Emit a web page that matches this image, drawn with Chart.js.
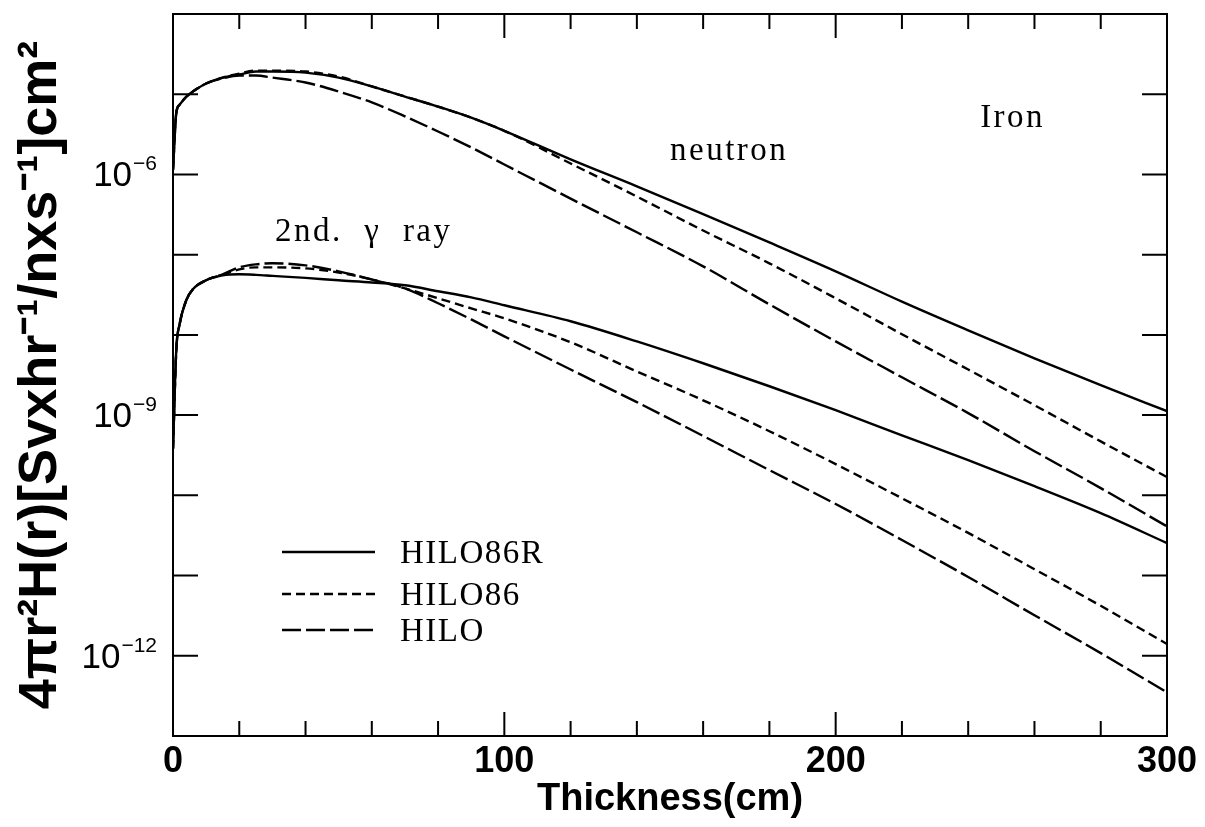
<!DOCTYPE html>
<html>
<head>
<meta charset="utf-8">
<script src="https://cdn.jsdelivr.net/npm/chart.js@4.4.1/dist/chart.umd.min.js"></script>
<style>
  html, body { margin: 0; padding: 0; background: #fff; }
  #wrap { width: 1205px; height: 827px; position: relative; }
</style>
</head>
<body>
<div id="wrap"><canvas id="doseChart"></canvas></div>
<script>
// thickness of iron (cm)
const thickness = [0, 1, 2, 4, 6, 10, 15, 20, 25, 30, 40, 50, 60, 70, 80, 90, 100, 120, 140, 160, 180, 200, 220, 240, 260, 280, 300];

// neutron dose
const neutronHILO86R = [1.15e-6, 5.9e-6, 7.4e-6, 9.3e-6, 1.08e-5, 1.36e-5, 1.61e-5, 1.76e-5, 1.92e-5, 1.92e-5, 1.86e-5, 1.61e-5, 1.25e-5, 9.35e-6, 7.0e-6, 5.1e-6, 3.5e-6, 1.54e-6, 7.1e-7, 3.2e-7, 1.42e-7, 6.2e-8, 2.6e-8, 1.14e-8, 5.1e-9, 2.36e-9, 1.12e-9];
const neutronHILO86 = [1.15e-6, 5.9e-6, 7.4e-6, 9.3e-6, 1.08e-5, 1.36e-5, 1.61e-5, 1.81e-5, 1.97e-5, 1.97e-5, 1.92e-5, 1.66e-5, 1.25e-5, 9.35e-6, 7.0e-6, 5.1e-6, 3.5e-6, 1.37e-6, 5.3e-7, 2.0e-7, 7.8e-8, 2.86e-8, 1.02e-8, 3.7e-9, 1.33e-9, 4.7e-10, 1.69e-10];
const neutronHILO = [1.15e-6, 5.9e-6, 7.4e-6, 9.3e-6, 1.08e-5, 1.36e-5, 1.58e-5, 1.71e-5, 1.71e-5, 1.61e-5, 1.40e-5, 1.08e-5, 7.9e-6, 5.3e-6, 3.43e-6, 2.17e-6, 1.33e-6, 5.0e-7, 1.9e-7, 7.15e-8, 2.4e-8, 8.3e-9, 2.96e-9, 1.06e-9, 3.55e-10, 1.23e-10, 4.1e-11];

// secondary gamma ray dose
const gammaHILO86R = [3.8e-10, 6.6e-9, 1.36e-8, 2.7e-8, 3.7e-8, 4.8e-8, 5.52e-8, 5.69e-8, 5.6e-8, 5.44e-8, 5.14e-8, 4.79e-8, 4.5e-8, 4.15e-8, 3.5e-8, 2.94e-8, 2.34e-8, 1.48e-8, 8.3e-9, 4.43e-9, 2.29e-9, 1.15e-9, 5.6e-10, 2.74e-10, 1.3e-10, 6.0e-11, 2.54e-11];
const gammaHILO86 = [3.8e-10, 6.6e-9, 1.36e-8, 2.7e-8, 3.7e-8, 4.8e-8, 5.6e-8, 6.56e-8, 6.95e-8, 6.95e-8, 6.75e-8, 6.0e-8, 4.9e-8, 3.8e-8, 2.86e-8, 2.14e-8, 1.61e-8, 8.1e-9, 3.5e-9, 1.53e-9, 6.3e-10, 2.45e-10, 9.2e-11, 3.4e-11, 1.2e-11, 4.2e-12, 1.4e-12];
const gammaHILO = [3.8e-10, 6.6e-9, 1.36e-8, 2.7e-8, 3.7e-8, 4.8e-8, 5.7e-8, 6.95e-8, 7.57e-8, 7.8e-8, 7.36e-8, 6.2e-8, 4.9e-8, 3.8e-8, 2.48e-8, 1.56e-8, 9.6e-9, 3.7e-9, 1.45e-9, 5.5e-10, 2.06e-10, 7.8e-11, 2.77e-11, 9.6e-12, 3.2e-12, 1.08e-12, 3.5e-13];

// axes
const xLabelValues = [0, 100, 200, 300];
const xMinorValues = [20, 40, 60, 80, 120, 140, 160, 180, 220, 240, 260, 280];
const yDecades = [-13, -12, -11, -10, -9, -8, -7, -6, -5, -4];
const yLabelDecades = [-12, -9, -6];
const yLabelExp = ['\u221212', '\u22129', '\u22126'];

const codeNames = ['HILO86R', 'HILO86', 'HILO'];
const codeDash = [[], [9, 5], [19, 5]];

const sans = "'Liberation Sans', Arial, Helvetica, sans-serif";
const serif = "'Liberation Serif', 'DejaVu Serif', 'Times New Roman', serif";

function pts(vals) {
    return thickness.map((t, i) => ({x: t, y: vals[i]}));
}
function ds(label, vals, dash) {
    return {
        label: label,
        data: pts(vals),
        borderColor: '#000',
        borderWidth: 2.4,
        borderDash: dash,
        pointRadius: 0,
        fill: false,
        cubicInterpolationMode: 'monotone'
    };
}

// inward ticks on all four sides, frame, and y labels with real superscripts
const frameTicks = {
    id: 'frameTicks',
    afterDraw(chart) {
        const {ctx, chartArea: a, scales: {x, y}} = chart;
        ctx.save();
        ctx.strokeStyle = '#000';
        ctx.lineWidth = 2;
        ctx.strokeRect(a.left, a.top, a.right - a.left, a.bottom - a.top);
        ctx.beginPath();
        xMinorValues.concat([100, 200]).forEach(v => {
            const px = x.getPixelForValue(v);
            const len = v % 100 === 0 ? 24 : 15;
            ctx.moveTo(px, a.bottom); ctx.lineTo(px, a.bottom - len);
            ctx.moveTo(px, a.top); ctx.lineTo(px, a.top + len);
        });
        yDecades.forEach(e => {
            const py = y.getPixelForValue(Math.pow(10, e));
            ctx.moveTo(a.left, py); ctx.lineTo(a.left + 25, py);
            ctx.moveTo(a.right, py); ctx.lineTo(a.right - 25, py);
        });
        ctx.stroke();

        ctx.fillStyle = '#000';
        ctx.textAlign = 'right';
        ctx.textBaseline = 'alphabetic';
        const labelRight = a.left - 16;
        yLabelDecades.forEach((e, i) => {
            const py = y.getPixelForValue(Math.pow(10, e));
            ctx.font = '21px ' + sans;
            const w = ctx.measureText(yLabelExp[i]).width;
            ctx.fillText(yLabelExp[i], labelRight, py - 4);
            ctx.font = '35px ' + sans;
            ctx.fillText('10', labelRight - w - 1, py + 12);
        });
        ctx.restore();
    }
};

// text notes and the key
const notes = {
    id: 'notes',
    afterDraw(chart) {
        const {ctx, scales: {x, y}} = chart;
        ctx.save();
        ctx.fillStyle = '#000';
        ctx.font = '33px ' + serif;
        ctx.textBaseline = 'alphabetic';
        ctx.letterSpacing = '2.5px';
        ctx.fillText('neutron', x.getPixelForValue(150), y.getPixelForValue(1.5e-6));
        ctx.fillText('Iron', x.getPixelForValue(243.6), y.getPixelForValue(3.9e-6));
        ctx.fillText('2nd.  \u03B3  ray', x.getPixelForValue(30.8), y.getPixelForValue(1.47e-7));

        // key
        ctx.letterSpacing = '1.5px';
        const keyY = [552, 594, 630];
        codeNames.forEach((name, i) => {
            ctx.beginPath();
            ctx.setLineDash(codeDash[i]);
            ctx.lineWidth = 2.4;
            ctx.strokeStyle = '#000';
            ctx.moveTo(282, keyY[i]);
            ctx.lineTo(375, keyY[i]);
            ctx.stroke();
            ctx.fillText(name, 400, keyY[i] + 11);
        });
        ctx.restore();
    }
};

const doseChart = document.getElementById('doseChart');
new Chart(doseChart, {
    type: 'line',
    data: {
        datasets: [
            ds('HILO', neutronHILO, codeDash[2]),
            ds('HILO86', neutronHILO86, codeDash[1]),
            ds('HILO86R', neutronHILO86R, codeDash[0]),
            ds('HILO', gammaHILO, codeDash[2]),
            ds('HILO86', gammaHILO86, codeDash[1]),
            ds('HILO86R', gammaHILO86R, codeDash[0])
        ]
    },
    options: {
        responsive: true,
        maintainAspectRatio: false,
        animation: false,
        devicePixelRatio: 1,
        layout: { padding: { left: 0, right: 38, top: 14, bottom: 0 } },
        plugins: {
            legend: { display: false },
            tooltip: { enabled: false }
        },
        scales: {
            x: {
                type: 'linear',
                min: 0,
                max: 300,
                afterBuildTicks(scale) {
                    scale.ticks = xLabelValues.map(v => ({value: v}));
                },
                afterFit(scale) {
                    scale.height = 91;
                    scale.paddingLeft = 0;
                    scale.paddingRight = 0;
                },
                grid: { display: false, drawTicks: false },
                border: { display: false },
                ticks: {
                    autoSkip: false,
                    maxRotation: 0,
                    padding: 8,
                    color: '#000',
                    font: { family: sans, size: 36, weight: 'bold', lineHeight: 1 },
                    callback: v => String(v)
                },
                title: {
                    display: true,
                    text: 'Thickness(cm)',
                    color: '#000',
                    padding: { top: 0, bottom: 8 },
                    font: { family: sans, size: 38, weight: 'bold', lineHeight: 1 }
                }
            },
            y: {
                type: 'logarithmic',
                min: 1e-13,
                max: 1e-4,
                afterBuildTicks(scale) {
                    scale.ticks = yDecades.map(e => ({value: Math.pow(10, e)}));
                },
                afterFit(scale) {
                    scale.width = 173;
                    scale.paddingTop = 0;
                    scale.paddingBottom = 0;
                },
                grid: { display: false, drawTicks: false },
                border: { display: false },
                ticks: { display: false },
                title: {
                    display: true,
                    text: '4\u03C0r\u00B2H(r)[Svxhr\u207B\u00B9/nxs\u207B\u00B9]cm\u00B2',
                    color: '#000',
                    padding: { top: 14, bottom: 0 },
                    font: { family: sans, size: 54, weight: 'bold', lineHeight: 1 }
                }
            }
        }
    },
    plugins: [frameTicks, notes]
});
</script>
</body>
</html>
